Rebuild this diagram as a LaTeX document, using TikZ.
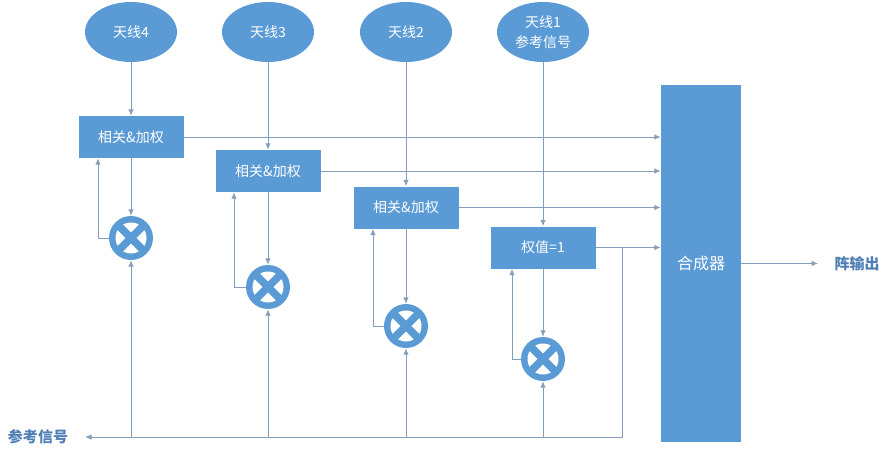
\documentclass[tikz,border=0pt]{standalone}
\usepackage{fontspec}
\newfontfamily\cjk{Noto Sans CJK SC}
\usetikzlibrary{arrows.meta,shapes.geometric}
\definecolor{fillblue}{HTML}{5B9BD5}
\definecolor{linec}{HTML}{849FBC}
\definecolor{txtblue}{HTML}{4F7FB5}
\begin{document}
\begin{tikzpicture}[x=1pt,y=-1pt, font=\cjk\fontsize{14}{20}\selectfont,
 ant/.style={ellipse, fill=fillblue, minimum width=92pt, minimum height=60pt, inner sep=0pt, text=white, align=center},
 proc/.style={rectangle, fill=fillblue, minimum width=105pt, minimum height=42pt, text=white, inner sep=0pt},
 comb/.style={rectangle, fill=fillblue, minimum width=80pt, minimum height=357pt, text=white, inner sep=0pt, font=\cjk\fontsize{16}{18}\selectfont},
 conn/.style={draw=linec, line width=1pt, -{Latex[length=6.5pt,width=5.5pt]}},
 lbl/.style={text=txtblue, font=\cjk\bfseries\fontsize{15}{17}\selectfont, inner sep=0pt},
 mult/.style={circle, minimum size=44pt, inner sep=0pt, fill=fillblue,
   path picture={
     \fill[white] (path picture bounding box.center) circle (15.5pt);
     \draw[fillblue, line width=7.5pt, shift={(path picture bounding box.center)}]
        (-12,-12) -- (12,12) (-12,12) -- (12,-12);
   }}]
\useasboundingbox (0,0) rectangle (888,453);
% antennas
\node[ant] (a4) at (131,32) {天线4};
\node[ant] (a3) at (268,32) {天线3};
\node[ant] (a2) at (406,32) {天线2};
\node[ant] (a1) at (543,32) {天线1\\参考信号};
% processing boxes
\node[proc] (b4) at (131,137) {相关\&加权};
\node[proc] (b3) at (268,171) {相关\&加权};
\node[proc] (b2) at (406,207.5) {相关\&加权};
\node[proc] (b1) at (543,247.5) {权值=1};
% multipliers
\node[mult] (m4) at (131,238) {};
\node[mult] (m3) at (268,287) {};
\node[mult] (m2) at (406,326) {};
\node[mult] (m1) at (543,359) {};
% combiner
\node[comb] (cb) at (701,263.5) {合成器};
% labels
\node[lbl] (ref) at (38,437) {参考信号};
\node[lbl] (out) at (857,263.5) {阵输出};
% coordinates
\coordinate (tap) at (622,247.5);
\coordinate (busr) at (622,437);
\coordinate (refend) at (85,437);
\coordinate (outend) at (818,263.5);
% antenna -> box
\draw[conn] (a4.south) -- (b4.north);
\draw[conn] (a3.south) -- (b3.north);
\draw[conn] (a2.south) -- (b2.north);
\draw[conn] (a1.south) -- (b1.north);
% box -> multiplier
\draw[conn] (b4.south) -- (m4.north);
\draw[conn] (b3.south) -- (m3.north);
\draw[conn] (b2.south) -- (m2.north);
\draw[conn] (b1.south) -- (m1.north);
% feedback
\draw[conn] (m4.west) -| ([xshift=-33pt]b4.south);
\draw[conn] (m3.west) -| ([xshift=-34pt]b3.south);
\draw[conn] (m2.west) -| ([xshift=-33pt]b2.south);
\draw[conn] (m1.west) -| ([xshift=-31pt]b1.south);
% box -> combiner
\draw[conn] (b4.east) -- (b4.east -| cb.west);
\draw[conn] (b3.east) -- (b3.east -| cb.west);
\draw[conn] (b2.east) -- (b2.east -| cb.west);
\draw[conn] (b1.east) -- (b1.east -| cb.west);
% reference bus
\draw[conn] (tap) -- (busr) -- (refend);
\draw[conn] (m4 |- busr) -- (m4.south);
\draw[conn] (m3 |- busr) -- (m3.south);
\draw[conn] (m2 |- busr) -- (m2.south);
\draw[conn] (m1 |- busr) -- (m1.south);
% output
\draw[conn] (cb.east |- outend) -- (outend);
\end{tikzpicture}
\end{document}
